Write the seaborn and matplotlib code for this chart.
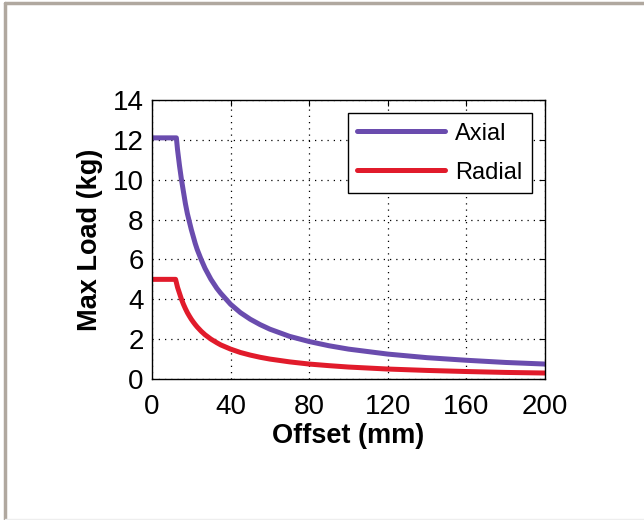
import numpy as np
import pandas as pd
import matplotlib
matplotlib.use("Agg")
import matplotlib.pyplot as plt
from matplotlib.lines import Line2D
import seaborn as sns

# Data
offset_axial = [0, 12.4, 13, 14, 15, 16, 17, 18, 19, 20, 21, 22, 23, 25, 27, 30, 33, 35, 40, 45, 50, 55, 60, 70, 80, 90, 100, 120, 140, 160, 180, 200]
load_axial = [12.1, 12.1, 11.5, 10.7, 10.0, 9.4, 8.8, 8.3, 7.9, 7.5, 7.15, 6.8, 6.5, 6.0, 5.55, 5.0, 4.55, 4.3, 3.75, 3.33, 3.0, 2.73, 2.5, 2.14, 1.88, 1.67, 1.5, 1.25, 1.07, 0.94, 0.83, 0.75]
offset_radial = [0, 12, 13, 14, 15, 16, 17, 18, 19, 20, 21, 22, 23, 25, 27, 30, 33, 35, 40, 45, 50, 55, 60, 70, 80, 90, 100, 120, 140, 160, 180, 200]
load_radial = [5.0, 5.0, 4.6, 4.3, 4.0, 3.75, 3.53, 3.33, 3.16, 3.0, 2.86, 2.73, 2.61, 2.4, 2.22, 2.0, 1.82, 1.71, 1.5, 1.33, 1.2, 1.09, 1.0, 0.86, 0.75, 0.67, 0.6, 0.5, 0.43, 0.375, 0.33, 0.3]
series = ["Axial", "Radial"]
colors = ["#6a4cae", "#e11b2b"]
x_ticks = [0, 40, 80, 120, 160, 200]
y_ticks = [0, 2, 4, 6, 8, 10, 12, 14]

df = pd.concat([
    pd.DataFrame({"Offset": offset_axial, "Load": load_axial, "Series": "Axial"}),
    pd.DataFrame({"Offset": offset_radial, "Load": load_radial, "Series": "Radial"}),
], ignore_index=True)

sns.set_style("white")
plt.rcParams["font.family"] = ["Liberation Sans", "DejaVu Sans"]
plt.rcParams["text.color"] = "black"
plt.rcParams["axes.labelcolor"] = "black"

fig = plt.figure(figsize=(6.44, 5.2), dpi=100)
ax = fig.add_axes([152/644, 1-379/520, (545-152)/644, (379-100)/520])

sns.lineplot(data=df, x="Offset", y="Load", hue="Series", hue_order=series,
             palette=dict(zip(series, colors)), linewidth=3.6, ax=ax, sort=False,
             estimator=None)

ax.set_xlim(0, 200)
ax.set_ylim(0, 14)
ax.set_xticks(x_ticks)
ax.set_yticks(y_ticks)
ax.tick_params(direction="in", length=4, width=0.8, top=True, right=True,
               labelsize=20, colors="black", labelcolor="black")
ax.tick_params(axis="x", pad=11)
ax.tick_params(axis="y", pad=6)
ax.grid(True, linestyle=(0, (1, 4)), color="black", linewidth=0.9)
for s in ax.spines.values():
    s.set_color("black")
    s.set_linewidth(1.0)
    s.set_visible(True)

ax.set_xlabel("Offset (mm)", fontsize=19.5, fontweight="bold", labelpad=2, color="black")
ax.set_ylabel("Max Load (kg)", fontsize=19.5, fontweight="bold", labelpad=7, color="black")

leg = ax.legend(loc="upper right", fontsize=17, frameon=True, fancybox=False,
                edgecolor="black", framealpha=1, handlelength=3.7,
                borderpad=0.4, labelspacing=0.72, handletextpad=0.45,
                bbox_to_anchor=(0.967, 0.953), borderaxespad=0)
leg.get_frame().set_linewidth(1.0)
for t in leg.get_texts():
    t.set_color("black")
for h in leg.get_lines():
    h.set_linewidth(3.6)

# Gray frame lines of the original panel
fig.add_artist(Line2D([5/644, 1], [1-3/520, 1-3/520], color="#b0a89f", lw=2.5, transform=fig.transFigure))
fig.add_artist(Line2D([5/644, 5/644], [0, 1-3/520], color="#b0a89f", lw=2.5, transform=fig.transFigure))
fig.add_artist(Line2D([5/644, 1], [1/520, 1/520], color="#eeeeee", lw=1, transform=fig.transFigure))

fig.savefig("out.png", dpi=100)
